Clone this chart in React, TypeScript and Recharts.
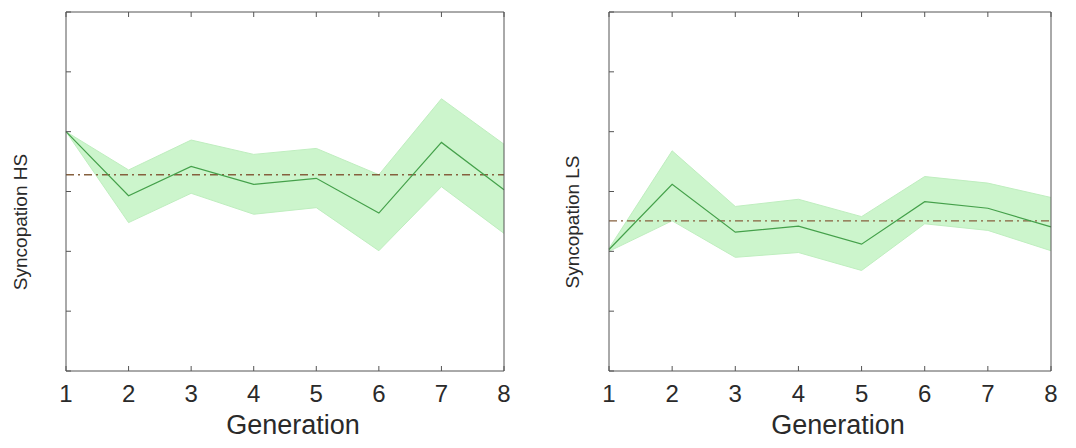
import React from 'react';
import { ComposedChart, Area, Line, XAxis, YAxis, ReferenceLine, Label } from 'recharts';

const generations = [1, 2, 3, 4, 5, 6, 7, 8];
const xTicks = [1, 2, 3, 4, 5, 6, 7, 8];
const yTicks = [0, 1, 2, 3, 4, 5, 6];

const hsMean = [4.0, 2.93, 3.42, 3.12, 3.22, 2.64, 3.82, 3.03];
const hsUpper = [4.0, 3.36, 3.86, 3.62, 3.72, 3.28, 4.55, 3.79];
const hsLower = [4.0, 2.48, 2.97, 2.62, 2.73, 2.01, 3.08, 2.30];
const hsBaseline = 3.28;

const lsMean = [2.03, 3.12, 2.32, 2.42, 2.12, 2.83, 2.72, 2.41];
const lsUpper = [2.05, 3.68, 2.75, 2.87, 2.58, 3.25, 3.14, 2.90];
const lsLower = [2.0, 2.51, 1.90, 1.98, 1.68, 2.46, 2.35, 2.01];
const lsBaseline = 2.51;

const FONT = '"Liberation Sans", Arial, Helvetica, sans-serif';
const AXIS = '#555';
const TEXT = '#2a2a2a';

function buildRows(mean: number[], lower: number[], upper: number[]) {
  return generations.map((g, i) => ({ gen: g, mean: mean[i], band: [lower[i], upper[i]] }));
}

const BottomTick = (props: any) => {
  const { x, y, payload } = props;
  return (
    <g>
      <line x1={x} y1={y} x2={x} y2={y - 5} stroke={AXIS} strokeWidth={1} />
      <text x={x} y={y + 31} textAnchor="middle" fontFamily={FONT} fontSize={24} fill={TEXT}>
        {payload.value}
      </text>
    </g>
  );
};

const TopTick = (props: any) => {
  const { x, y } = props;
  return <line x1={x} y1={y} x2={x} y2={y + 5} stroke={AXIS} strokeWidth={1} />;
};

const LeftTick = (props: any) => {
  const { x, y } = props;
  return <line x1={x} y1={y} x2={x + 5} y2={y} stroke={AXIS} strokeWidth={1} />;
};

const RightTick = (props: any) => {
  const { x, y } = props;
  return <line x1={x} y1={y} x2={x - 5} y2={y} stroke={AXIS} strokeWidth={1} />;
};

function Panel({ rows, baseline, yLabel, leftW, rightW, labelX }: any) {
  return (
    <ComposedChart
      width={538}
      height={448}
      data={rows}
      margin={{ top: 0, bottom: 0, left: 0, right: 0 }}
    >
      <XAxis
        dataKey="gen"
        type="number"
        domain={[1, 8]}
        ticks={xTicks}
        height={77}
        tickSize={0}
        tickMargin={0}
        tickLine={false}
        tick={BottomTick}
        axisLine={{ stroke: AXIS, strokeWidth: 1 }}
        interval={0}
      >
        <Label
          content={(p: any) => {
            const vb = p.viewBox;
            return (
              <text
                x={vb.x + vb.width / 2 + 8}
                y={vb.y + 63}
                textAnchor="middle"
                fontFamily={FONT}
                fontSize={27}
                fill={TEXT}
              >
                Generation
              </text>
            );
          }}
        />
      </XAxis>
      <XAxis
        xAxisId="top"
        orientation="top"
        dataKey="gen"
        type="number"
        domain={[1, 8]}
        ticks={xTicks}
        height={12}
        tickSize={0}
        tickMargin={0}
        tickLine={false}
        tick={TopTick}
        axisLine={{ stroke: AXIS, strokeWidth: 1 }}
        interval={0}
      />
      <YAxis
        type="number"
        domain={[0, 6]}
        ticks={yTicks}
        width={leftW}
        tickSize={0}
        tickMargin={0}
        tickLine={false}
        tick={LeftTick}
        axisLine={{ stroke: AXIS, strokeWidth: 1 }}
        interval={0}
      >
        <Label
          content={(p: any) => {
            const vb = p.viewBox;
            const cx = vb.x + labelX;
            const cy = 222;
            return (
              <text
                x={cx}
                y={cy}
                transform={`rotate(-90 ${cx} ${cy})`}
                textAnchor="middle"
                dominantBaseline="central"
                fontFamily={FONT}
                fontSize={19}
                fill={TEXT}
              >
                {yLabel}
              </text>
            );
          }}
        />
      </YAxis>
      <YAxis
        yAxisId="right"
        orientation="right"
        type="number"
        domain={[0, 6]}
        ticks={yTicks}
        width={rightW}
        tickSize={0}
        tickMargin={0}
        tickLine={false}
        tick={RightTick}
        axisLine={{ stroke: AXIS, strokeWidth: 1 }}
        interval={0}
      />
      <Area
        dataKey="band"
        type="linear"
        stroke="#bfeebf"
        strokeWidth={1}
        fill="#ccf5cc"
        fillOpacity={1}
        isAnimationActive={false}
        dot={false}
        activeDot={false}
      />
      <ReferenceLine
        y={baseline}
        stroke="#86603e"
        strokeWidth={1.3}
        strokeDasharray="8 4 2 4"
      />
      <Line
        dataKey="mean"
        type="linear"
        stroke="#44a04a"
        strokeWidth={1.2}
        dot={false}
        activeDot={false}
        isAnimationActive={false}
      />
    </ComposedChart>
  );
}

export default function App() {
  const hsRows = buildRows(hsMean, hsLower, hsUpper);
  const lsRows = buildRows(lsMean, lsLower, lsUpper);
  return (
    <div style={{ position: 'absolute', left: 0, top: 0, width: 1076, height: 448, background: '#fff', display: 'flex' }}>
      <Panel rows={hsRows} baseline={hsBaseline} yLabel="Syncopation HS" leftW={66} rightW={34} labelX={20} />
      <Panel rows={lsRows} baseline={lsBaseline} yLabel="Syncopation LS" leftW={71} rightW={25} labelX={34} />
    </div>
  );
}
